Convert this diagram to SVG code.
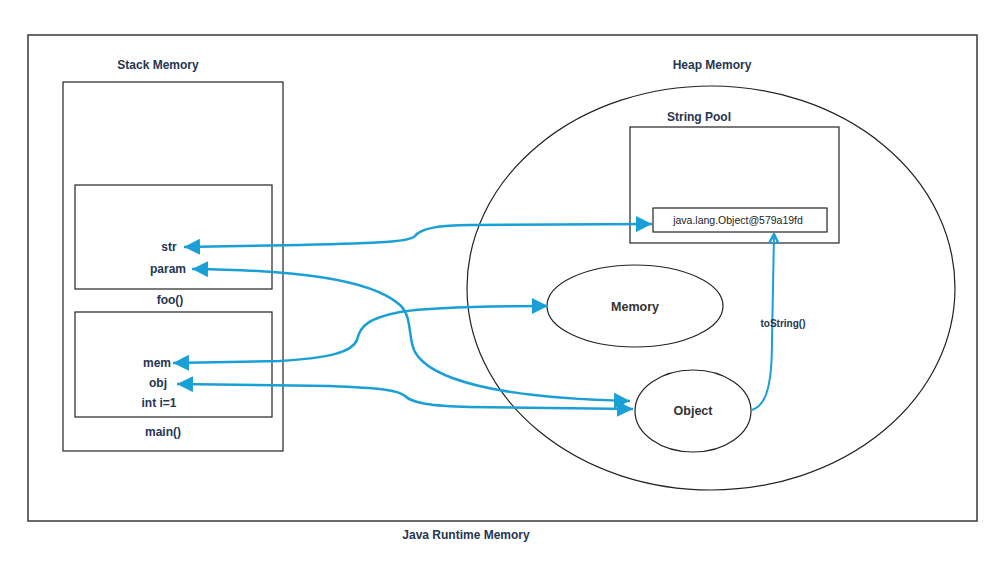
<svg xmlns="http://www.w3.org/2000/svg" width="1002" height="563" viewBox="0 0 1002 563">
<style>
  .box{fill:none;stroke:#222;stroke-width:1.2}
  .frame{fill:none;stroke:#444;stroke-width:1.6}
  .lbl{font-family:"Liberation Sans",Arial,sans-serif;font-weight:bold;font-size:12px;fill:#253552;text-anchor:middle}
  .nlbl{font-family:"Liberation Sans",Arial,sans-serif;font-weight:bold;font-size:12.5px;fill:#333;text-anchor:middle}
  .small{font-family:"Liberation Sans",Arial,sans-serif;font-size:10.5px;fill:#222;text-anchor:middle}
  .conn{fill:none;stroke:#1a9fd6;stroke-width:2.5}
  .conn2{fill:none;stroke:#1a9fd6;stroke-width:2}
</style>
<defs>
  <marker id="tri" markerUnits="userSpaceOnUse" markerWidth="16" markerHeight="16" refX="14" refY="7" orient="auto-start-reverse" viewBox="0 0 14 14">
    <path d="M0,0 L14,7 L0,14 z" fill="#1a9fd6"/>
  </marker>
  <marker id="open" markerUnits="userSpaceOnUse" markerWidth="12" markerHeight="12" refX="9" refY="5" orient="auto" viewBox="0 0 10 10">
    <path d="M1,1 L9,5 L1,9" fill="none" stroke="#1a9fd6" stroke-width="2"/>
  </marker>
</defs>
<rect width="1002" height="563" fill="#fff"/>
<g id="runtime">
  <rect class="frame" x="28" y="35" width="949" height="486"/>
  <text class="lbl" x="466" y="539">Java Runtime Memory</text>
</g>
<g id="stack">
  <rect class="box" x="63" y="82" width="220" height="369"/>
  <text class="lbl" x="158" y="69">Stack Memory</text>
</g>
<g id="foo">
  <rect class="box" x="75" y="185" width="197" height="104"/>
  <text class="lbl" x="170" y="304">foo()</text>
  <text class="lbl" x="169" y="251">str</text>
  <text class="lbl" x="168" y="273">param</text>
</g>
<g id="main">
  <rect class="box" x="75" y="312" width="197" height="105"/>
  <text class="lbl" x="163" y="436">main()</text>
  <text class="lbl" x="157" y="367">mem</text>
  <text class="lbl" x="158" y="387">obj</text>
  <text class="lbl" x="159" y="407">int i=1</text>
</g>
<g id="heap">
  <ellipse class="box" cx="711" cy="288" rx="244" ry="202"/>
  <text class="lbl" x="712" y="69">Heap Memory</text>
</g>
<g id="stringpool">
  <rect class="box" x="630" y="127" width="209" height="116"/>
  <text class="lbl" x="699" y="121">String Pool</text>
</g>
<g id="stringvalue">
  <rect class="box" x="653" y="208" width="174" height="24"/>
  <text class="small" x="738" y="224">java.lang.Object@579a19fd</text>
</g>
<g id="memory">
  <ellipse class="box" cx="635" cy="306" rx="88" ry="41"/>
  <text class="nlbl" x="635" y="311">Memory</text>
</g>
<g id="object">
  <ellipse class="box" cx="693" cy="411" rx="58" ry="41"/>
  <text class="nlbl" x="693" y="415">Object</text>
</g>
<g id="connectors">
  <path class="conn" marker-start="url(#tri)" marker-end="url(#tri)" d="M184,247 L300,245 C380,243 410,242 415,236 C420,229 440,225 470,225 L652,224"/>
  <path class="conn" marker-start="url(#tri)" marker-end="url(#tri)" d="M192,269 C290,270 370,278 400,305 C412,316 408,335 414,350 C428,380 500,398 630,401"/>
  <path class="conn" marker-start="url(#tri)" marker-end="url(#tri)" d="M173,363 L280,361 C330,358 352,352 357,340 C360,325 370,318 400,312 C430,307 480,306 548,306"/>
  <path class="conn" marker-start="url(#tri)" marker-end="url(#tri)" d="M177,384 L330,386 C380,388 398,390 405,396 C412,403 430,406 470,407 L633,409"/>
  <path class="conn2" marker-end="url(#open)" d="M752,410 C768,405 772,380 772,340 L774,234"/>
  <text class="lbl" x="783" y="327" style="font-size:10px">toString()</text>
</g>
</svg>
